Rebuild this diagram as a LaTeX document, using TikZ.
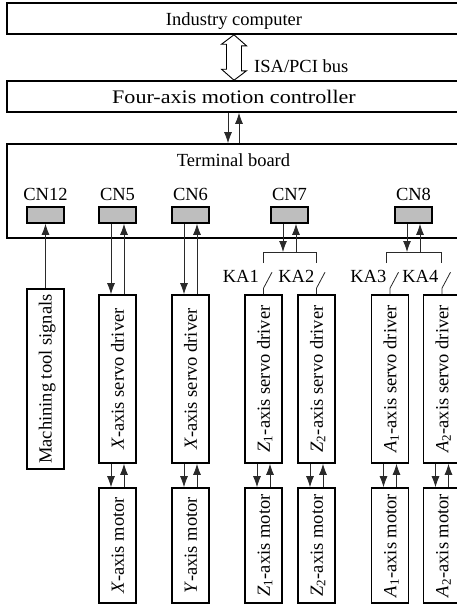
\documentclass[tikz,border=0pt]{standalone}
\usepackage{fontspec}
\setmainfont{Liberation Serif}
\usepackage{graphicx}
\usetikzlibrary{arrows.meta}
\newcommand\fsz{\fontsize{18.5}{22}\selectfont}
\newcommand\vtext[1]{\rotatebox{90}{\fsz\raisebox{0pt}[12.5pt][0pt]{#1}}}
\definecolor{cngray}{HTML}{BEBEBE}
\definecolor{linegray}{HTML}{2A2A2A}
\begin{document}
\begin{tikzpicture}[x=1pt,y=-1pt,
  box/.style={draw, line width=1.6pt, inner sep=0pt, font=\fsz, text height=13.5pt, text depth=0pt},
  vbox/.style={draw, line width=1.6pt, inner sep=0pt, minimum width=37pt},
  cn/.style={draw, line width=1.6pt, fill=cngray, minimum width=37pt, minimum height=16pt, inner sep=0pt},
  lbl/.style={font=\fsz, inner sep=0pt},
  con/.style={draw=linegray, line width=0.8pt},
  arr/.style={con, -{Latex[length=11pt,width=8pt]}},
  hollow/.style={draw, line width=0.9pt, line join=miter},
]
\useasboundingbox (0,0) rectangle (457,606);
\clip (0,0) rectangle (457,606);

% main boxes
\node[box, minimum width=454pt, minimum height=31pt] (pc) at (234,18.5) {Industry computer};
\node[box, minimum width=454pt, minimum height=31pt] (mc) at (234,96.5) {\scalebox{1.15}[1]{\fontsize{19.2}{23}\selectfont Four-axis motion controller}};
\node[draw, line width=1.6pt, minimum width=454pt, minimum height=94pt, inner sep=0pt] (tb) at (234,191) {};
\node[lbl, anchor=base] (tbl) at (233.5,166.5) {Terminal board};

% ISA/PCI bus hollow double arrow
\draw[hollow] (pc.south) -- ++(12.5,11) -- ++(-5,0) -- ++(0,25) -- ++(5,0) -- (mc.north)
  -- ++(-12.5,-11) -- ++(5,0) -- ++(0,-25) -- ++(-5,0) -- cycle;
\node[lbl, anchor=base west] (bus) at (254,72) {ISA/PCI bus};

% connectors on terminal board
\foreach \n/\x/\t in {cn12/45.5/CN12, cn5/117.5/CN5, cn6/190.5/CN6, cn7/289.5/CN7, cn8/413.5/CN8}{
  \node[lbl, anchor=base] (l\n) at (\x,200.5) {\t};
  \node[cn] (\n) at (\x,215) {};
}

% lower boxes
\node[vbox, minimum height=180pt] (mach) at (45.5,379) {\vtext{Machining tool signals}};
\node[vbox, minimum height=168pt] (dx) at (117.5,379) {\vtext{\textit{X}-axis servo driver}};
\node[vbox, minimum height=168pt] (dy) at (190.5,379) {\vtext{\textit{X}-axis servo driver}};
\node[vbox, minimum height=168pt] (dz1) at (263.5,379) {\vtext{\textit{Z}\textsubscript{1}-axis servo driver}};
\node[vbox, minimum height=168pt] (dz2) at (316.5,379) {\vtext{\textit{Z}\textsubscript{2}-axis servo driver}};
\node[vbox, minimum height=168pt] (da1) at (390,379) {\vtext{\textit{A}\textsubscript{1}-axis servo driver}};
\node[vbox, minimum height=168pt] (da2) at (442,379) {\vtext{\textit{A}\textsubscript{2}-axis servo driver}};

\node[vbox, minimum height=115pt] (mx) at (117.5,545.5) {\vtext{\textit{X}-axis motor}};
\node[vbox, minimum height=115pt] (my) at (190.5,545.5) {\vtext{\textit{Y}-axis motor}};
\node[vbox, minimum height=115pt] (mz1) at (263.5,545.5) {\vtext{\textit{Z}\textsubscript{1}-axis motor}};
\node[vbox, minimum height=115pt] (mz2) at (316.5,545.5) {\vtext{\textit{Z}\textsubscript{2}-axis motor}};
\node[vbox, minimum height=115pt] (ma1) at (390,545.5) {\vtext{\textit{A}\textsubscript{1}-axis motor}};
\node[vbox, minimum height=115pt] (ma2) at (442,545.5) {\vtext{\textit{A}\textsubscript{2}-axis motor}};

% controller <-> terminal board
\draw[arr] ([xshift=-6pt]mc.south) -- ([xshift=-6pt]tb.north);
\draw[arr] ([xshift=5pt]tb.north) -- ([xshift=5pt]mc.south);

% CN12
\draw[arr] (mach.north) -- (cn12.south);
% CN5, CN6
\foreach \c/\d in {cn5/dx, cn6/dy}{
  \draw[arr] ([xshift=-6.5pt]\c.south) -- ([xshift=-6.5pt]\d.north);
  \draw[arr] ([xshift=6.5pt]\d.north) -- ([xshift=6.5pt]\c.south);
}
% driver <-> motor
\foreach \d/\m in {dx/mx, dy/my, dz1/mz1, dz2/mz2, da1/ma1, da2/ma2}{
  \draw[arr] ([xshift=-6.5pt]\d.south) -- ([xshift=-6.5pt]\m.north);
  \draw[arr] ([xshift=6.5pt]\m.north) -- ([xshift=6.5pt]\d.south);
}

% brackets and relay contacts
\coordinate (k1t) at (263.5,252);
\coordinate (k2t) at (316.5,252);
\coordinate (k3t) at (386,252);
\coordinate (k4t) at (441,252);
\draw[con] (k1t) ++(0,11) -- (k1t) -- (k2t) -- ++(0,11);
\draw[con] (k3t) ++(0,11) -- (k3t) -- (k4t) -- ++(0,11);

\coordinate (c7a) at ([xshift=-6.5pt]cn7.south);
\coordinate (c7b) at ([xshift=6.5pt]cn7.south);
\coordinate (c8a) at ([xshift=-6.5pt]cn8.south);
\coordinate (c8b) at ([xshift=6.5pt]cn8.south);
\draw[arr] (c7a) -- (c7a |- k1t);
\draw[arr] (c7b |- k1t) -- (c7b);
\draw[arr] (c8a) -- (c8a |- k3t);
\draw[arr] (c8b |- k3t) -- (c8b);

\foreach \d in {dz1, dz2, da1, da2}{
  \draw[con] (\d.north) -- ++(0,-6) -- ++(8.5,-16);
}
\node[lbl, anchor=base east] (ka1) at (259,282.5) {KA1};
\node[lbl, anchor=base east] (ka2) at (314.5,282.5) {KA2};
\node[lbl, anchor=base east] (ka3) at (386.5,282.5) {KA3};
\node[lbl, anchor=base east] (ka4) at (438.5,282.5) {KA4};
\end{tikzpicture}
\end{document}
